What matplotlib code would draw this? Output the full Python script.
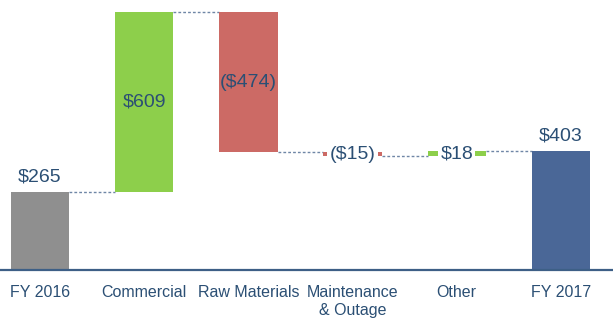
import matplotlib.pyplot as plt

plt.rcParams["font.family"] = ["Liberation Sans", "DejaVu Sans"]

categories = ["FY 2016", "Commercial", "Raw Materials", "Maintenance\n& Outage", "Other", "FY 2017"]
changes = [265, 609, -474, -15, 18, 403]
labels = ["$265", "$609", "($474)", "($15)", "$18", "$403"]
kinds = ["total", "delta", "delta", "delta", "delta", "total"]

text_col = "#2b4f74"
colors = {"total0": "#8f8f8f", "up": "#8dcf4b", "down": "#cc6a65", "total1": "#4a6797"}

fig = plt.figure(figsize=(6.13, 3.22), dpi=100)
ax = fig.add_axes([0, 1 - 270 / 322, 1, 270 / 322])

width = 0.56
running = 0
tops = []
for i, (cat, val, lab, kind) in enumerate(zip(categories, changes, labels, kinds)):
    if kind == "total":
        bottom, height = 0, val
        col = colors["total0"] if i == 0 else colors["total1"]
        running = val
    else:
        bottom = running if val > 0 else running + val
        height = abs(val)
        col = colors["up"] if val > 0 else colors["down"]
        running += val
    ax.bar(i, height, bottom=bottom, width=width, color=col, zorder=2)
    tops.append(running)

    if kind == "total":
        ax.text(i, val + 22, lab, ha="center", va="bottom", color=text_col, fontsize=14)
    elif height > 100:
        ax.text(i, bottom + height / 2, lab, ha="center", va="center", color=text_col, fontsize=14)
    else:
        ax.text(i, bottom + height / 2, lab, ha="center", va="center", color=text_col, fontsize=14,
                zorder=3, bbox=dict(facecolor="white", edgecolor="none", pad=1.5))

# dashed connectors between bars
for i in range(len(changes) - 1):
    ax.plot([i + width / 2, i + 1 - width / 2], [tops[i], tops[i]], ls=(0, (2, 1.5)),
            color="#6f86a6", lw=1.0, zorder=1)

ax.set_xlim(-0.384, 5.5)
ax.set_ylim(0, 915)
ax.set_yticks([])
ax.set_xticks(range(len(categories)))
ax.set_xticklabels(categories, color=text_col, fontsize=11.5, linespacing=1.25)
ax.tick_params(axis="x", length=0, pad=11)
for s in ["top", "right", "left"]:
    ax.spines[s].set_visible(False)
ax.spines["bottom"].set_color("#3d5f86")
ax.spines["bottom"].set_linewidth(1.6)

fig.savefig("out.png", dpi=100)
